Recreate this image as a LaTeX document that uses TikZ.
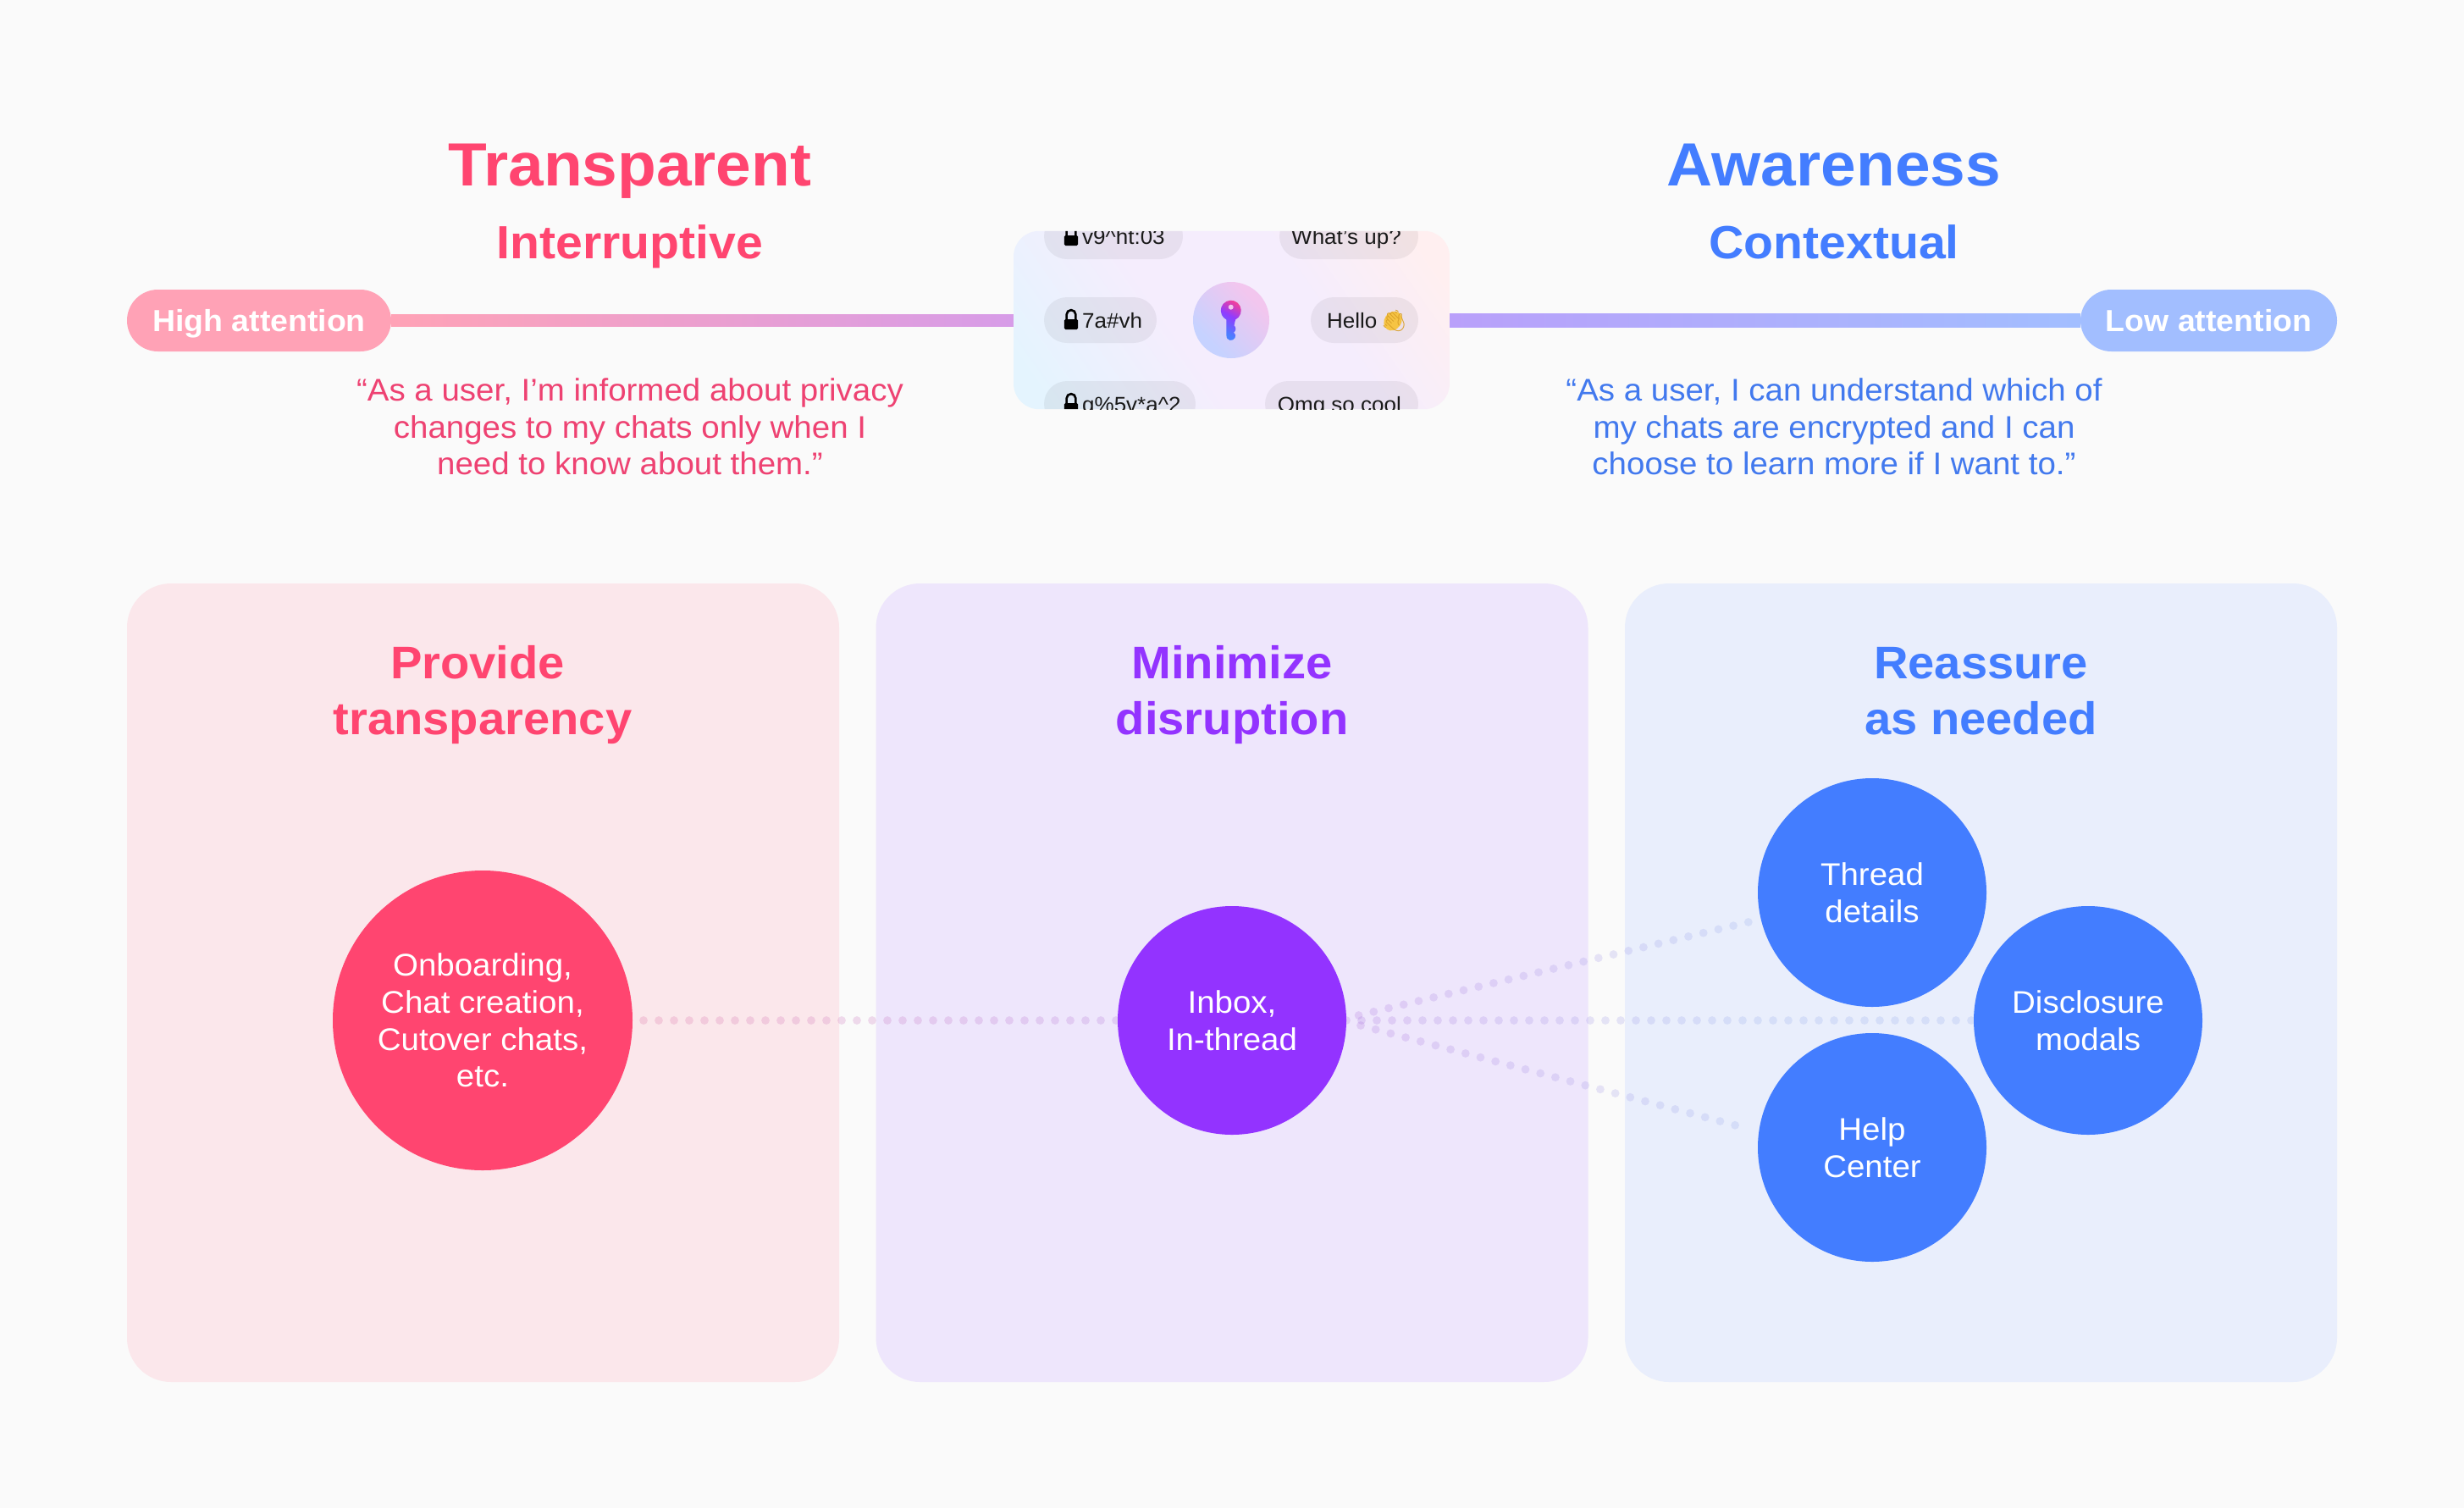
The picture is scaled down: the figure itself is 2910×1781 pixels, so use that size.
\documentclass[tikz,border=0pt]{standalone}
\usepackage{fontspec}
\setmainfont[FakeStretch=1.04]{Liberation Sans}
\newfontfamily\emojifont{Noto Emoji}
\usetikzlibrary{calc}
\definecolor{bgc}{HTML}{FAFAFA}
\definecolor{pinkc}{HTML}{FF4570}
\definecolor{purplec}{HTML}{9333FF}
\definecolor{bluec}{HTML}{437DFF}
\definecolor{pinkq}{HTML}{EE4272}
\definecolor{blueq}{HTML}{4279EE}
\definecolor{panelp}{HTML}{FBE7EB}
\definecolor{panelv}{HTML}{EEE6FC}
\definecolor{panelb}{HTML}{E9EEFC}
\definecolor{pillhi}{HTML}{FFA2B6}
\definecolor{pilllo}{HTML}{A2BEFF}
\definecolor{linev}{HTML}{D79CE8}
\definecolor{linew}{HTML}{B9A0FA}
\definecolor{dotp}{HTML}{DB64A0}
\definecolor{dotv}{HTML}{AA6EDC}
\definecolor{dotb}{HTML}{91A6EC}
\definecolor{handc}{HTML}{F6C443}
\definecolor{handl}{HTML}{D9A02A}
\definecolor{cardA}{HTML}{E4F4FE}
\definecolor{cardB}{HTML}{F5EDFD}
\definecolor{cardC}{HTML}{FFEFF0}
\definecolor{keyA}{HTML}{C6D2FF}
\definecolor{keyB}{HTML}{F2C6EE}
\definecolor{kA}{HTML}{4A80FF}
\definecolor{kB}{HTML}{8F3CFF}
\definecolor{kC}{HTML}{F0409C}
\pgfdeclarehorizontalshading{cardgrad}{100bp}{color(0bp)=(cardA);color(20bp)=(cardA);color(42bp)=(cardB);color(62bp)=(cardB);color(80bp)=(cardC);color(100bp)=(cardC)}
\pgfdeclarehorizontalshading{keybg}{100bp}{color(0bp)=(keyA);color(30bp)=(keyA);color(70bp)=(keyB);color(100bp)=(keyB)}
\pgfdeclarehorizontalshading{keygrad}{100bp}{color(0bp)=(kA);color(30bp)=(kA);color(55bp)=(kB);color(75bp)=(kC);color(100bp)=(kC)}
\newcommand{\dotrow}[7]{%
  \foreach \i in {0,...,#3}{%
    \pgfmathsetmacro{\mixv}{min(100,100*\i/#6)}%
    \fill[dotstyle,color=#5!\mixv!#4] ($(#1)!\i*#7pt!(#2)$) circle (4.9pt);
  }}
\tikzset{
  panel/.style={rectangle,rounded corners=52pt,minimum width=841pt,minimum height=943pt,inner sep=0pt},
  blob/.style={circle,inner sep=0pt,text=white,align=center,font=\fontsize{37}{43.6}\selectfont},
  bigtitle/.style={anchor=base,font=\fontsize{72}{80}\selectfont\bfseries},
  subtitle/.style={anchor=base,font=\fontsize{55}{60}\selectfont\bfseries},
  quote/.style={align=center,font=\fontsize{37}{43.6}\selectfont},
  paneltitle/.style={align=center,font=\fontsize{54}{66}\selectfont\bfseries},
  tagpill/.style={rectangle,rounded corners=36.5pt,minimum height=73pt,inner sep=0pt,text=white,text height=26pt,text depth=1pt,font=\fontsize{36}{40}\selectfont\bfseries},
  bubble/.style={fill=black,fill opacity=.055,rounded corners=27pt},
  chat/.style={font=\fontsize{25}{30}\selectfont,text=black!90,inner sep=0pt},
  dotstyle/.style={opacity=.22},
  lockicon/.pic={
    \fill[black,rounded corners=1.5pt] (-8.2,-1) rectangle (8.2,11);
    \draw[black,line width=2.6pt] (-5.4,-1) -- (-5.4,-6.5) arc (180:0:5.4pt) -- (5.4,-1);
  }
}
\begin{document}
\begin{tikzpicture}[x=1pt,y=-1pt]
\path[use as bounding box,fill=bgc] (0,0) rectangle (2910,1781);

% panels
\node[panel,fill=panelp] (pp) at (570.5,1160.5) {};
\node[panel,fill=panelv] (pv) at (1455,1160.5) {};
\node[panel,fill=panelb] (pb) at (2339.5,1160.5) {};
\node[paneltitle,text=pinkc] (tp) at (570,820.5) {Provide\hspace*{12pt}\\transparency};
\node[paneltitle,text=purplec] (tv) at (1455,820.5) {Minimize\\disruption};
\node[paneltitle,text=bluec] (tb) at (2339.5,816.5) {Reassure\\as needed};

% circles (invisible anchors first, dots below circles)
\coordinate (cp) at (570,1205);
\coordinate (cv) at (1455,1205);
\coordinate (cd) at (2466,1205);
\coordinate (ct) at (2211,1054);
\coordinate (ch) at (2211,1355);
\coordinate (r1a) at (760,1205);
\coordinate (r2a) at (1590,1205);
\coordinate (fta) at (1604.6,1199);
\coordinate (fba) at (1607,1211);
\coordinate (fbe) at (2080,1337);
\dotrow{r1a}{cv}{31}{dotp}{dotv}{34}{18}
\dotrow{r2a}{cd}{41}{dotv}{dotb}{26}{18}
\dotrow{fta}{ct}{26}{dotv}{dotb}{26}{18.2}
\dotrow{fba}{fbe}{25}{dotv}{dotb}{26}{18.3}

\node[blob,fill=pinkc,minimum size=354pt] (onb) at (cp) {Onboarding,\\Chat creation,\\Cutover chats,\\etc.};
\node[blob,fill=purplec,minimum size=270pt] (inb) at (cv) {Inbox,\\In-thread};
\node[blob,fill=bluec,minimum size=270pt] (thr) at (ct) {Thread\\details};
\node[blob,fill=bluec,minimum size=270pt] (dis) at (cd) {Disclosure\\modals};
\node[blob,fill=bluec,minimum size=270pt] (hlp) at (ch) {Help\\Center};

% top titles
\node[bigtitle,text=pinkc] (t1) at (744,219.5) {Transparent};
\node[subtitle,text=pinkc] (s1) at (744,305) {Interruptive};
\node[bigtitle,text=bluec] (t2) at (2166,219.5) {Awareness};
\node[subtitle,text=bluec] (s2) at (2166,305) {Contextual};
\node[quote,text=pinkq] (q1) at (744,504) {“As a user, I’m informed about privacy\\changes to my chats only when I\\need to know about them.”};
\node[quote,text=blueq] (q2) at (2166,504) {“As a user, I can understand which of\\my chats are encrypted and I can\\choose to learn more if I want to.”};

% attention line
\node[tagpill,fill=pillhi,minimum width=312pt] (hi) at (306,378.5) {High attention};
\node[tagpill,fill=pilllo,minimum width=303pt] (lo) at (2608.5,378.5) {Low attention};
\node[rectangle,minimum width=514.5pt,minimum height=210pt,inner sep=0pt] (card) at (1454.5,378) {};
\shade[left color=pillhi,right color=linev] ($(hi.east)+(0,-7.5)$) rectangle ($(card.west)+(0,7.5)$);
\shade[left color=linew,right color=pilllo] ($(card.east)+(0,-7.5)$) rectangle ($(lo.west)+(0,7.5)$);

% centre card
\path[shading=cardgrad,shading angle=35,rounded corners=30pt] (card.north west) rectangle (card.south east);
\begin{scope}
\clip[rounded corners=30pt] (card.north west) rectangle (card.south east);
\fill[bubble] (1233,252) rectangle (1397,306);
\fill[bubble] (1233,351) rectangle (1366,405);
\fill[bubble] (1233,450) rectangle (1412,504);
\fill[bubble] (1511,252) rectangle (1675,306);
\fill[bubble] (1548,351) rectangle (1675,405);
\fill[bubble] (1494,450) rectangle (1675,504);
\pic at (1265,279) {lockicon};
\pic at (1265,378) {lockicon};
\pic at (1265,477) {lockicon};
\node[chat,anchor=base west] (c1) at (1278,288) {v9\textasciicircum ht:03};
\node[chat,anchor=base west] (c2) at (1278,387) {7a\#vh};
\node[chat,anchor=base west] (c3) at (1278,486) {g\%5v*a\textasciicircum 2};
\node[chat,anchor=base east] (c4) at (1655,288) {What’s up?};
\fill[handc,rotate around={-35:(1645,379)}] (1645,379) ellipse (10pt and 12pt);
\node[chat,anchor=base west] (c5) at (1567,387) {Hello\hspace{4pt}{\emojifont\textcolor{handl}{👋}}};
\node[chat,anchor=base east] (c6) at (1655,486) {Omg so cool};
\end{scope}

% key
\node[circle,minimum size=90pt,inner sep=0pt,shading=keybg,shading angle=45] (keyc) at (1454,378) {};
\path[shading=keygrad,shading angle=60]
  (1459,377.5) arc (-64:244:12pt) -- (1448.4,396)
  .. controls (1448.4,403) and (1456,403.5) .. (1458.5,399)
  .. controls (1460,397) and (1459,394) .. (1457,392.5)
  .. controls (1460,391) and (1460,386) .. (1457.5,384.5)
  -- (1459,377.5) -- cycle;
\fill[keyB] (1453.7,362.7) circle (3pt);
\end{tikzpicture}
\end{document}
